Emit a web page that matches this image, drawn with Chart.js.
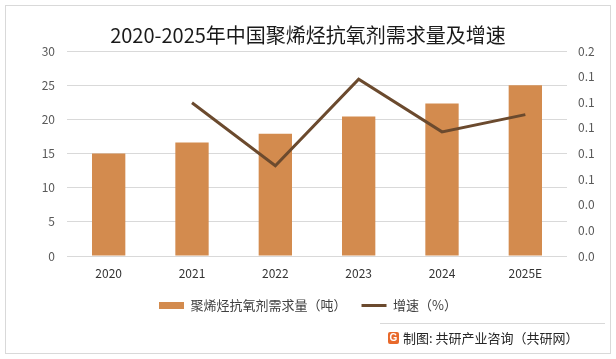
<!DOCTYPE html>
<html>
<head>
<meta charset="utf-8">
<script src="https://cdn.jsdelivr.net/npm/chart.js@4/dist/chart.umd.min.js"></script>
<style>
  html, body { margin: 0; padding: 0; background: #fff; }
  #wrap { width: 616px; height: 359px; }
</style>
</head>
<body>
<div id="wrap"><canvas id="chart" width="616" height="359"></canvas></div>
<script>
// Chart data
const years = ['2020', '2021', '2022', '2023', '2024', '2025E'];
const demand = [15, 16.6, 17.9, 20.4, 22.3, 25];
const growth = [null, 0.1495, 0.0881, 0.1725, 0.1211, 0.1379];
const rightTickLabels = ['0.0', '0.0', '0.0', '0.1', '0.1', '0.1', '0.1', '0.1', '0.2'];

const barColor = '#D38B4E';
const lineColor = '#6B4A2E';
const cjkFont = "'Noto Sans CJK SC', 'Noto Sans', sans-serif";

// Background, frame and source note
const decorations = {
  id: 'decorations',
  beforeDraw(chart) {
    const ctx = chart.ctx;
    ctx.save();
    ctx.fillStyle = '#fff';
    ctx.fillRect(0, 0, chart.width, chart.height);
    ctx.restore();
  },
  afterDraw(chart) {
    const ctx = chart.ctx;
    ctx.save();
    ctx.strokeStyle = '#d9d9d9';
    ctx.lineWidth = 1;
    ctx.strokeRect(5.5, 5.5, 605, 348);
    ctx.beginPath();
    ctx.moveTo(380, 323.5);
    ctx.lineTo(605, 323.5);
    ctx.stroke();

    // small logo
    ctx.fillStyle = '#E8692B';
    ctx.beginPath();
    ctx.roundRect(388, 332, 11, 12, 2);
    ctx.fill();
    ctx.fillStyle = '#fff';
    ctx.font = "bold 10px 'Liberation Sans', sans-serif";
    ctx.textAlign = 'center';
    ctx.textBaseline = 'middle';
    ctx.fillText('G', 393.5, 338.5);

    ctx.fillStyle = '#262626';
    ctx.font = '13px ' + cjkFont;
    ctx.textAlign = 'left';
    ctx.fillText('制图: 共研产业咨询（共研网）', 403, 338);
    ctx.restore();
  }
};

new Chart(document.getElementById('chart'), {
  type: 'bar',
  data: {
    labels: years,
    datasets: [
      {
        type: 'bar',
        label: '聚烯烃抗氧剂需求量（吨）',
        data: demand,
        backgroundColor: barColor,
        yAxisID: 'y',
        categoryPercentage: 1,
        barPercentage: 0.4,
        order: 1
      },
      {
        type: 'line',
        label: '增速（%）',
        data: growth,
        borderColor: lineColor,
        backgroundColor: lineColor,
        borderWidth: 3,
        pointRadius: 0,
        tension: 0,
        yAxisID: 'y1',
        order: 0
      }
    ]
  },
  options: {
    responsive: false,
    animation: false,
    layout: { padding: { left: 0, right: 0, top: 0, bottom: 37 } },
    plugins: {
      title: {
        display: true,
        text: '2020-2025年中国聚烯烃抗氧剂需求量及增速',
        color: '#1a1a1a',
        font: { size: 20, weight: 'normal', family: cjkFont },
        padding: { top: 23, bottom: 4 }
      },
      legend: {
        position: 'bottom',
        labels: {
          usePointStyle: true,
          pointStyleWidth: 25,
          boxHeight: 7,
          padding: 15,
          color: '#404040',
          font: { size: 13, family: cjkFont },
          generateLabels(chart) {
            return chart.data.datasets.map((ds, i) => ({
              text: ds.label,
              datasetIndex: i,
              fillStyle: ds.type === 'bar' ? barColor : lineColor,
              strokeStyle: ds.type === 'bar' ? barColor : lineColor,
              lineWidth: ds.type === 'bar' ? 0 : 3,
              pointStyle: ds.type === 'bar' ? 'rect' : 'line',
              fontColor: '#404040',
              hidden: false
            }));
          }
        }
      },
      tooltip: { enabled: false }
    },
    scales: {
      x: {
        grid: { display: false, drawTicks: false },
        border: { display: false },
        ticks: { color: '#333', padding: 10, font: { size: 12, family: cjkFont } },
        afterFit(scale) { scale.height = 28; }
      },
      y: {
        position: 'left',
        min: 0,
        max: 30,
        ticks: { stepSize: 5, color: '#595959', padding: 12, font: { size: 12, family: cjkFont } },
        grid: { color: '#d9d9d9', drawTicks: false },
        border: { display: false },
        afterFit(scale) { scale.width = 67; }
      },
      y1: {
        position: 'right',
        min: 0,
        max: 0.2,
        ticks: {
          stepSize: 0.025,
          color: '#595959',
          padding: 11,
          font: { size: 12, family: cjkFont },
          callback: (value, index) => rightTickLabels[index]
        },
        grid: { display: false, drawTicks: false },
        border: { display: false },
        afterFit(scale) { scale.width = 49; }
      }
    }
  },
  plugins: [decorations]
});
</script>
</body>
</html>
